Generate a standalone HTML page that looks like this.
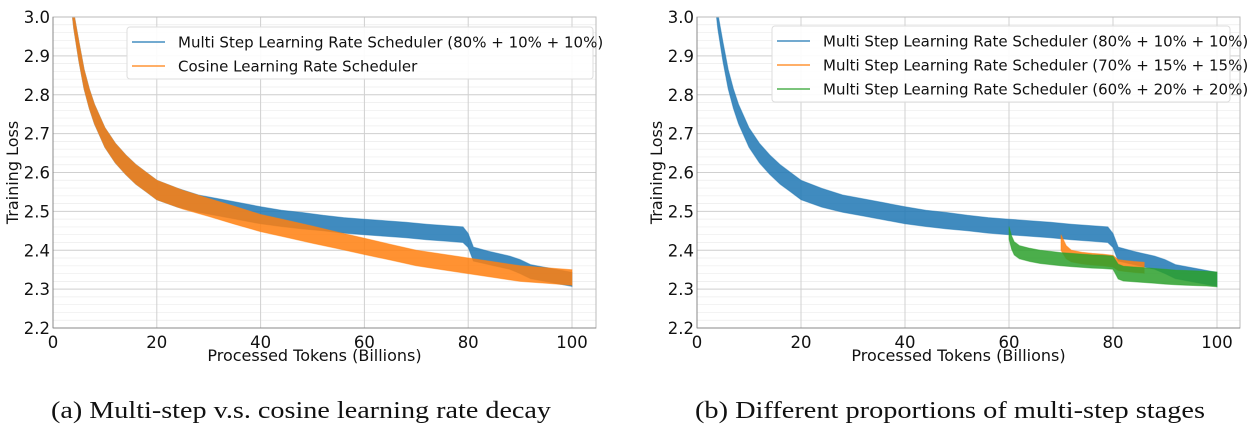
<!DOCTYPE html>
<html><head><meta charset="utf-8"><style>
body{margin:0;background:#fff;width:1250px;height:440px;overflow:hidden}
svg{display:block}
.sans{font-family:"DejaVu Sans","Liberation Sans",sans-serif}
.serif{font-family:"Liberation Serif",serif}
</style></head><body>
<svg id="chart" width="1250" height="440"></svg>
<script>
// ---- data ----
const xTicks=[0,20,40,60,80,100];
const yTicks=[2.2,2.3,2.4,2.5,2.6,2.7,2.8,2.9,3.0];
// multi-step 80/10/10
const msX  =[3.5,4,5,6,7,8,10,12,14,16,18,20,24,28,32,36,40,44,48,52,56,60,64,68,72,76,79,80,81,84,88,90,92,96,100];
const msY  =[3.05,2.99,2.91,2.84,2.79,2.75,2.69,2.65,2.62,2.595,2.575,2.555,2.535,2.52,2.51,2.5,2.49,2.482,2.476,2.47,2.464,2.46,2.456,2.452,2.447,2.443,2.44,2.425,2.39,2.38,2.368,2.358,2.345,2.335,2.325];
const msA  =[0.02,0.02,0.025,0.025,0.025,0.025,0.025,0.025,0.025,0.025,0.025,0.025,0.024,0.022,0.022,0.022,0.022,0.021,0.021,0.02,0.02,0.02,0.02,0.02,0.02,0.02,0.02,0.018,0.018,0.017,0.017,0.018,0.018,0.018,0.018];
// cosine
const cosX =[3.5,4,5,6,7,8,10,12,14,16,18,20,25,30,35,40,45,50,55,60,65,70,75,80,85,90,95,100];
const cosY =[3.05,2.99,2.91,2.84,2.79,2.75,2.69,2.65,2.62,2.595,2.575,2.555,2.53,2.51,2.49,2.47,2.455,2.44,2.425,2.41,2.395,2.38,2.37,2.36,2.35,2.34,2.335,2.33];
const cosA =[0.02,0.02,0.025,0.025,0.025,0.025,0.025,0.025,0.025,0.025,0.025,0.025,0.024,0.023,0.023,0.022,0.022,0.022,0.021,0.021,0.02,0.02,0.02,0.02,0.02,0.02,0.02,0.02];
// multi-step 70/15/15
const m70X =[70,71,72,74,76,78,80,81,82,84,86];
const m70Y =[2.42,2.395,2.385,2.38,2.377,2.375,2.372,2.362,2.36,2.357,2.355];
const m70A =[0.02,0.017,0.015,0.015,0.015,0.015,0.015,0.014,0.014,0.014,0.014];
// multi-step 60/20/20
const m60X =[60,60.5,61,62,64,66,68,70,72,74,76,78,80,81,82,84,86,88,90,92,94,96,98,100];
const m60Y =[2.445,2.42,2.405,2.395,2.388,2.383,2.38,2.377,2.375,2.373,2.371,2.37,2.368,2.345,2.34,2.338,2.336,2.334,2.332,2.33,2.329,2.328,2.327,2.325];
const m60A =[0.016,0.017,0.017,0.017,0.017,0.017,0.017,0.017,0.017,0.017,0.017,0.017,0.017,0.019,0.019,0.019,0.019,0.019,0.019,0.019,0.019,0.019,0.019,0.019];

const NS='http://www.w3.org/2000/svg';
const svg=document.getElementById('chart');
function mk(tag,attrs,parent){const e=document.createElementNS(NS,tag);for(const k in attrs)e.setAttribute(k,attrs[k]);(parent||svg).appendChild(e);return e;}

function panel(cfg){
  const g=mk('g',{});
  
  
  const L=cfg.x0,R=cfg.x100,E=cfg.right,T=17,B=328;
  const sx=v=>L+(v/100)*(R-L);
  const sy=v=>B-(v-2.2)/0.8*(B-T);
  const clipId=cfg.name+'-clip';
  const cp=mk('clipPath',{id:clipId},g);mk('rect',{x:L,y:T,width:E-L,height:B-T},cp);
  for(let v=2.2;v<3.0;v+=0.02){const y=sy(v);mk('line',{x1:L,x2:E,y1:y,y2:y,stroke:'#ececec','stroke-width':0.7},g);}
  for(const v of yTicks){const y=sy(v);const l=mk('line',{x1:L,x2:E,y1:y,y2:y,stroke:'#d0d0d0','stroke-width':1},g);
    
    const t=mk('text',{class:'sans',x:L-3,y:y+6,'text-anchor':'end','font-size':16.5,fill:'#111'},g);t.textContent=v.toFixed(1);
    }
  for(const v of xTicks){const x=sx(v);mk('line',{x1:x,x2:x,y1:T,y2:B,stroke:'#d0d0d0','stroke-width':1},g);
    const t=mk('text',{class:'sans',x:x,y:B+20,'text-anchor':'middle','font-size':16.5,fill:'#111'},g);t.textContent=v;
    }
  const sg=mk('g',{'clip-path':'url(#'+clipId+')'},g);
  for(const s of cfg.series){
    let up='',dn=[];
    s.x.forEach((xv,i)=>{up+=(i?'L':'M')+sx(xv).toFixed(1)+','+sy(s.y[i]+s.a[i]).toFixed(1);dn.push(sx(xv).toFixed(1)+','+sy(s.y[i]-s.a[i]).toFixed(1));});
    dn.reverse();
    const p=mk('path',{d:up+'L'+dn.join('L')+'Z',fill:s.color,'fill-opacity':0.85,stroke:s.color,'stroke-width':1,'stroke-opacity':0.5},sg);
    
  }
  mk('rect',{x:L,y:T,width:E-L,height:B-T,fill:'none',stroke:'#bbb','stroke-width':1},g);
  mk('line',{x1:L,x2:L,y1:T,y2:B,stroke:'#888','stroke-width':1},g);
  mk('line',{x1:L,x2:E,y1:B,y2:B,stroke:'#888','stroke-width':1},g);
  const xl=mk('text',{class:'sans',x:(L+E)/2-10,y:B+33,'text-anchor':'middle','font-size':16,fill:'#111'},g);xl.textContent='Processed Tokens (Billions)';
  
  const yl=mk('text',{class:'sans',x:0,y:0,'text-anchor':'middle','font-size':16,fill:'#111',transform:'translate('+(L-35)+','+((T+B)/2)+') rotate(-90)'},g);yl.textContent='Training Loss';
  
  const lg=mk('g',{},g);
  
  mk('rect',{x:cfg.lx,y:cfg.ly,width:cfg.lw,height:cfg.series.length*24+4,fill:'#fff','fill-opacity':0.9,stroke:'#ddd',rx:3},lg);
  cfg.series.forEach((s,i)=>{
    const y=cfg.ly+15+i*24;
    mk('line',{x1:cfg.lx+5,x2:cfg.lx+38,y1:y,y2:y,stroke:s.color,'stroke-width':1.3},lg);
    const t=mk('text',{class:'sans',x:cfg.lx+51,y:y+5.5,'font-size':15,fill:'#111'},lg);t.textContent=s.label;
    
  });
  const c=mk('text',{class:'serif',x:cfg.cx,y:418,'text-anchor':'middle','font-size':24,fill:'#111',textLength:cfg.cw,lengthAdjust:'spacingAndGlyphs'});
  c.textContent=cfg.caption;
  
}
const blue='#1f77b4',orange='#ff7f0e',green='#2ca02c';
panel({name:'left-panel',x0:53,x100:572,right:596,lx:127,ly:27,lw:466,cx:301,cw:500,caption:'(a) Multi-step v.s. cosine learning rate decay',
  series:[
   {name:'multistep-80',label:'Multi Step Learning Rate Scheduler (80% + 10% + 10%)',x:msX,y:msY,a:msA,color:blue},
   {name:'cosine',label:'Cosine Learning Rate Scheduler',x:cosX,y:cosY,a:cosA,color:orange}]});
panel({name:'right-panel',x0:697,x100:1217,right:1240,lx:772,ly:26,lw:458,cx:950,cw:510,caption:'(b) Different proportions of multi-step stages',
  series:[
   {name:'multistep-80',label:'Multi Step Learning Rate Scheduler (80% + 10% + 10%)',x:msX,y:msY,a:msA,color:blue},
   {name:'multistep-70',label:'Multi Step Learning Rate Scheduler (70% + 15% + 15%)',x:m70X,y:m70Y,a:m70A,color:orange},
   {name:'multistep-60',label:'Multi Step Learning Rate Scheduler (60% + 20% + 20%)',x:m60X,y:m60Y,a:m60A,color:green}]});
</script>
</body></html>
